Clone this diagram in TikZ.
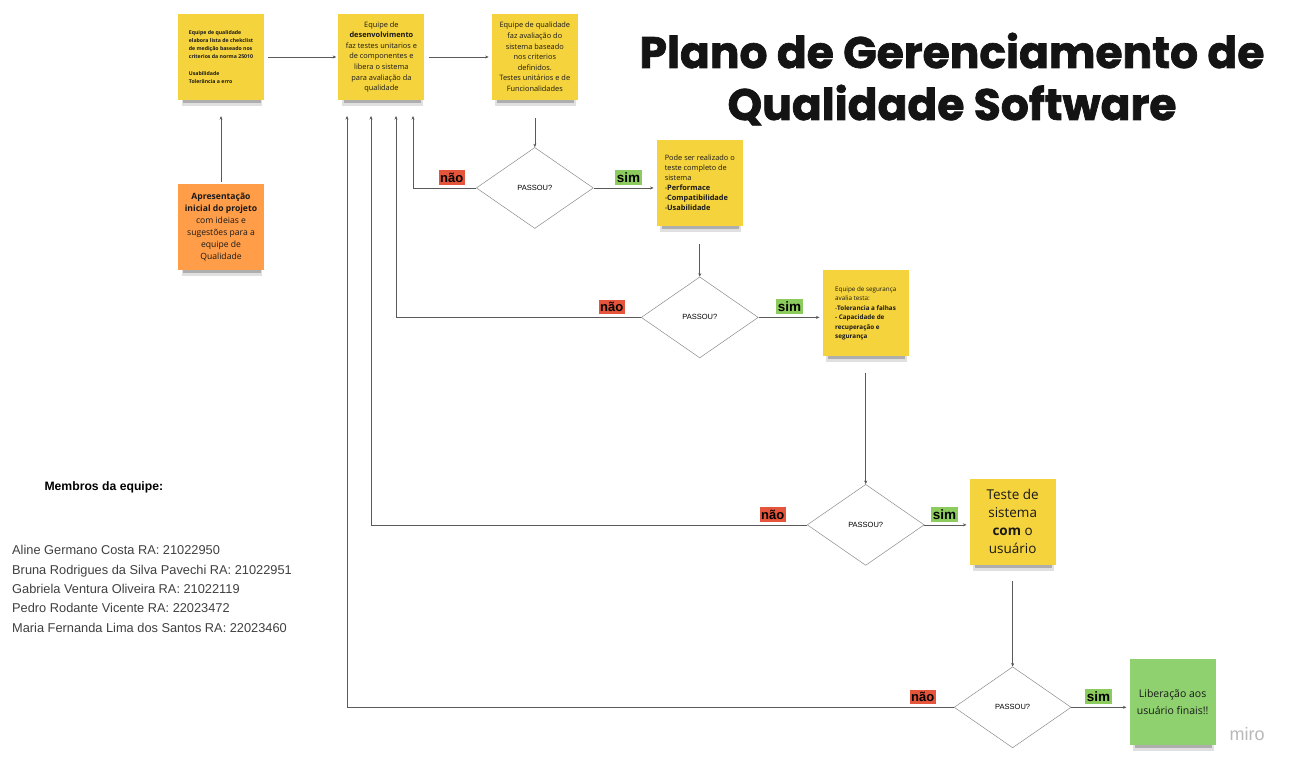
\documentclass[tikz,border=0pt]{standalone}
\usepackage{fontspec}
\setmainfont{Liberation Sans}
\newfontfamily\stickyfont{Open Sans}
\newfontfamily\titlefont{Poppins}[BoldFeatures={FakeBold=1.6}]
\usetikzlibrary{shapes.geometric,arrows.meta,positioning,shadows}
\definecolor{postit}{HTML}{F5D33C}
\definecolor{postorange}{HTML}{FF9D48}
\definecolor{postgreen}{HTML}{8FD16F}
\definecolor{naored}{HTML}{E5553B}
\definecolor{simgreen}{HTML}{8CCB5E}
\definecolor{linegray}{HTML}{5A5A5A}

\begin{document}
\begin{tikzpicture}[x=1pt,y=-1pt,>={Stealth[length=3.5pt,width=3pt]}]
\tikzstyle{sticky}=[rectangle,fill=postit,minimum width=86pt,minimum height=86pt,
inner sep=0pt,text=black!90,font=\stickyfont,
general shadow={shadow xshift=1pt,shadow yshift=-9pt,shadow scale=.94,opacity=.12,fill=black},
general shadow={shadow xshift=1pt,shadow yshift=-8pt,shadow scale=.9,opacity=.22,fill=black}]
\tikzstyle{passou}=[diamond,draw=black!45,line width=.5pt,minimum width=117pt,
minimum height=81pt,inner sep=0pt,font=\fontsize{7.5}{9}\selectfont]
\tikzstyle{sim}=[fill=simgreen,inner xsep=1.5pt,inner ysep=2.5pt,font=\bfseries\fontsize{13.5}{13.5}\selectfont]
\tikzstyle{nao}=[fill=naored,inner xsep=1.5pt,inner ysep=2.5pt,font=\bfseries\fontsize{13}{13}\selectfont]
\tikzstyle{seta}=[->,draw=linegray,line width=.55pt]
\useasboundingbox[fill=white] (0,0) rectangle (1297,770);

% titulo
\node[align=center,text=black!92,font=\titlefont\bfseries\fontsize{44}{52}\selectfont]
  (titulo) at (952,79) {Plano de Gerenciamento de\\Qualidade Software};

% linha de cima
\node[sticky,align=left,font=\stickyfont\bfseries\fontsize{5.2}{8.3}\selectfont] at (221,57) (s1)
  {Equipe de qualidade\\elabora lista de chekclist\\de medição baseado nos\\criterios da norma 25010\\[8.3pt]Usabilidade\\Tolerância a erro};
\node[sticky,align=center,font=\stickyfont\fontsize{7.4}{10.6}\selectfont,right=74pt of s1] (s2)
  {Equipe de\\\textbf{desenvolvimento}\\faz testes unitarios e\\de componentes e\\libera o sistema\\para avaliação da\\qualidade};
\node[sticky,align=center,font=\stickyfont\fontsize{7.4}{10.6}\selectfont,right=67pt of s2] (s3)
  {Equipe de qualidade\\faz avaliação do\\sistema baseado\\nos criterios\\definidos.\\Testes unitários e de\\Funcionalidades};
\node[sticky,fill=postorange,align=center,font=\stickyfont\fontsize{8.6}{12}\selectfont,below=84pt of s1] (s0)
  {\textbf{Apresentação}\\\textbf{inicial do projeto}\\com ideias e\\sugestões para a\\equipe de\\Qualidade};

% testes
\node[passou,below=47pt of s3] (p1) {PASSOU?};
\node[sticky,align=left,font=\stickyfont\fontsize{7.4}{10}\selectfont,right=63pt of p1,yshift=5pt] (s4)
  {Pode ser realizado o\\teste completo de\\sistema\\-\textbf{Performace}\\-\textbf{Compatibilidade}\\-\textbf{Usabilidade}};
\node[passou,below=50.5pt of s4] (p2) {PASSOU?};
\node[sticky,align=left,font=\stickyfont\fontsize{6.3}{9.4}\selectfont,right=64pt of p2,yshift=4pt] (s5)
  {Equipe de segurança\\avalia testa:\\-\textbf{Tolerancia a falhas}\\\textbf{- Capacidade de}\\\textbf{recuperação e}\\\textbf{segurança}};
\node[passou,below=127.5pt of s5] (p3) {PASSOU?};
\node[sticky,align=center,font=\stickyfont\fontsize{13.5}{18}\selectfont,right=45pt of p3,yshift=3pt] (s6)
  {Teste de\\sistema\\\textbf{com} o\\usuário};
\node[passou,below=101.5pt of s6] (p4) {PASSOU?};
\node[sticky,fill=postgreen,align=center,font=\stickyfont\fontsize{10.5}{17}\selectfont,right=58pt of p4,yshift=5pt] (s7)
  {Liberação aos\\usuário finais!!};

% retornos
\coordinate (r1) at (413,116);
\coordinate (r2) at (396,116);
\coordinate (r3) at (371,116);
\coordinate (r4) at (347,116);

\path[seta,shorten <=4pt,shorten >=2pt] (s1) edge (s2);
\path[seta,shorten <=4pt,shorten >=3pt] (s2) edge (s3);
\path[seta,shorten <=2pt,shorten >=16pt] (s0) edge (s1);
\path[seta,shorten <=18pt] (s3) edge (p1);
\path[seta,shorten <=18pt] (s4) edge (p2);
\path[seta,shorten <=16pt] (s5) edge (p3);
\path[seta,shorten <=16pt] (s6) edge (p4);
\draw[seta,shorten >=3pt] (p1.east) -- (p1.east -| s4.west);
\draw[seta,shorten >=3pt] (p2.east) -- (p2.east -| s5.west);
\draw[seta,shorten >=3pt] (p3.east) -- (p3.east -| s6.west);
\draw[seta,shorten >=3pt] (p4.east) -- (p4.east -| s7.west);
\draw[seta] (p1.west) -| (r1);
\draw[seta] (p2.west) -| (r2);
\draw[seta] (p3.west) -| (r3);
\draw[seta] (p4.west) -| (r4);

\node[sim,above=3pt of p1.east,xshift=35pt] (sim1) {sim};
\node[sim,above=3pt of p2.east,xshift=31pt] (sim2) {sim};
\node[sim,above=3pt of p3.east,xshift=20pt] (sim3) {sim};
\node[sim,above=3pt of p4.east,xshift=27pt] (sim4) {sim};
\node[nao,above left=3pt and 11pt of p1.west] (nao1) {não};
\node[nao,above left=3pt and 16pt of p2.west] (nao2) {não};
\node[nao,above left=3pt and 21pt of p3.west] (nao3) {não};
\node[nao,above left=3pt and 18pt of p4.west] (nao4) {não};

% equipe
\node[anchor=west,font=\bfseries\fontsize{12.2}{14}\selectfont] (membros) at (41,487) {Membros da equipe:};
\node[anchor=north west,align=left,inner sep=0pt,text=black!75,font=\fontsize{12.8}{19.3}\selectfont] (nomes) at (12,545.5)
  {Aline Germano Costa RA: 21022950\\Bruna Rodrigues da Silva Pavechi RA: 21022951\\Gabriela Ventura Oliveira RA: 21022119\\Pedro Rodante Vicente RA: 22023472\\Maria Fernanda Lima dos Santos RA: 22023460};

\node[text=black!28,font=\fontsize{18}{18}\selectfont] (miro) at (1247,734) {miro};
\end{tikzpicture}
\end{document}
